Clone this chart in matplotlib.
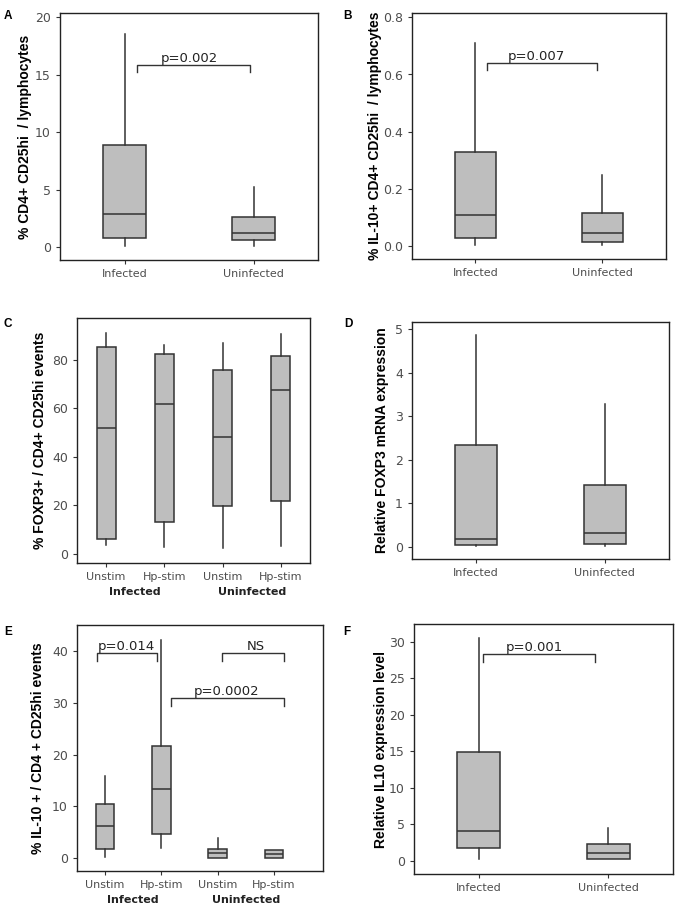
import matplotlib
matplotlib.use('Agg')
import matplotlib.pyplot as plt

# ---- data ----
two_groups = ['Infected', 'Uninfected']
four_groups = ['Unstim', 'Hp-stim', 'Unstim', 'Hp-stim']

# A: % CD4+ CD25hi / lymphocytes
a_low = [0.1, 0.1]
a_q1 = [0.75, 0.6]
a_med = [2.9, 1.2]
a_q3 = [8.85, 2.6]
a_high = [18.5, 5.2]

# B: % IL-10+ CD4+ CD25hi / lymphocytes
b_low = [0.005, 0.005]
b_q1 = [0.03, 0.015]
b_med = [0.11, 0.045]
b_q3 = [0.33, 0.115]
b_high = [0.71, 0.25]

# C: % FOXP3+ / CD4+ CD25hi events
c_low = [3.8, 2.7, 2.3, 3.2]
c_q1 = [6.2, 13.0, 19.9, 21.8]
c_med = [51.9, 61.7, 48.3, 67.6]
c_q3 = [85.2, 82.4, 75.6, 81.5]
c_high = [91.2, 86.1, 87.1, 90.7]

# D: relative FOXP3 mRNA expression
d_low = [0.03, 0.03]
d_q1 = [0.04, 0.08]
d_med = [0.18, 0.31]
d_q3 = [2.35, 1.43]
d_high = [4.87, 3.28]

# E: % IL-10+ / CD4+ CD25hi events
e_low = [0.2, 1.9, 0.0, 0.0]
e_q1 = [1.8, 4.6, 0.1, 0.1]
e_med = [6.3, 13.4, 0.97, 0.7]
e_q3 = [10.5, 21.7, 1.8, 1.6]
e_high = [15.9, 42.2, 3.9, 1.6]

# F: relative IL10 expression level
f_low = [0.23, 0.23]
f_q1 = [1.73, 0.23]
f_med = [4.05, 1.05]
f_q3 = [14.9, 2.37]
f_high = [30.5, 4.47]

# brackets: (x_left, x_right, y, drop, text, text_x)
a_brackets = [(1.1, 1.97, 15.8, 0.6, 'p=0.002', 1.5)]
b_brackets = [(1.09, 1.96, 0.64, 0.025, 'p=0.007', 1.48)]
e_brackets = [(0.86, 1.92, 39.7, 1.5, 'p=0.014', 1.37),
              (3.08, 4.18, 39.7, 1.5, 'NS', 3.67),
              (2.17, 4.18, 30.9, 1.5, 'p=0.0002', 3.16)]
f_brackets = [(1.03, 1.90, 28.3, 1.1, 'p=0.001', 1.43)]

box_fill = '#bebebe'
line_col = '#333333'
tick_col = '#4d4d4d'

fig = plt.figure(figsize=(6.75, 9.06), dpi=100)
W, H = 675.0, 906.0


def make_ax(left, right, top, bottom):
    return fig.add_axes([left / W, 1 - bottom / H, (right - left) / W, (bottom - top) / H])


def draw_box(ax, labels, low, q1, med, q3, high):
    stats = []
    for i in range(len(labels)):
        stats.append({'whislo': low[i], 'q1': q1[i], 'med': med[i],
                      'q3': q3[i], 'whishi': high[i], 'fliers': []})
    pos = list(range(1, len(labels) + 1))
    ax.bxp(stats, positions=pos, widths=0.33, patch_artist=True,
           showcaps=False, showfliers=False,
           boxprops=dict(facecolor=box_fill, edgecolor=line_col, linewidth=1.1),
           medianprops=dict(color=line_col, linewidth=1.1),
           whiskerprops=dict(color=line_col, linewidth=1.1))
    ax.set_xticks(pos)
    ax.set_xticklabels(labels)
    for s in ax.spines.values():
        s.set_color('#222222')
        s.set_linewidth(1.0)
    ax.tick_params(axis='both', length=3, width=0.8, color='#333333',
                   labelcolor=tick_col)
    ax.tick_params(axis='y', labelsize=9)
    ax.tick_params(axis='x', labelsize=8)


def draw_brackets(ax, brackets):
    for x1, x2, y, drop, txt, tx in brackets:
        ax.plot([x1, x1, x2, x2], [y - drop, y, y, y - drop], color=line_col, lw=1.0)
        ax.text(tx, y, txt, ha='center', va='bottom', fontsize=9.5, color='#222222')


def ylab(ax, text, xpos):
    ax.set_ylabel(text, fontsize=10, fontweight='bold', family='Liberation Sans')
    ax.yaxis.set_label_coords(xpos, 0.5)


def group_labels(ax):
    for x, t in [(1.5, 'Infected'), (3.5, 'Uninfected')]:
        ax.annotate(t, xy=(x, -0.118), xycoords=('data', 'axes fraction'),
                    ha='center', va='center', fontsize=8, fontweight='bold', color='#222222')


# A
axA = make_ax(60, 318, 13, 260)
draw_box(axA, two_groups, a_low, a_q1, a_med, a_q3, a_high)
axA.set_xlim(0.5, 2.5)
axA.set_ylim(-1.13, 20.35)
axA.set_yticks([0, 5, 10, 15, 20])
draw_brackets(axA, a_brackets)
ylab(axA, '% CD4+ CD25hi  / lymphocytes', -0.109)

# B
axB = make_ax(412, 666, 13, 259)
draw_box(axB, two_groups, b_low, b_q1, b_med, b_q3, b_high)
axB.set_xlim(0.5, 2.5)
axB.set_ylim(-0.045, 0.815)
axB.set_yticks([0.0, 0.2, 0.4, 0.6, 0.8])
axB.set_yticklabels(['0.0', '0.2', '0.4', '0.6', '0.8'])
draw_brackets(axB, b_brackets)
ylab(axB, '% IL-10+ CD4+ CD25hi  / lymphocytes', -0.118)

# C
axC = make_ax(77, 310, 318, 563)
draw_box(axC, four_groups, c_low, c_q1, c_med, c_q3, c_high)
axC.set_xlim(0.5, 4.5)
axC.set_ylim(-3.7, 97.2)
axC.set_yticks([0, 20, 40, 60, 80])
group_labels(axC)
ylab(axC, '% FOXP3+ / CD4+ CD25hi events', -0.129)

# D
axD = make_ax(412, 669, 322, 559)
draw_box(axD, two_groups, d_low, d_q1, d_med, d_q3, d_high)
axD.set_xlim(0.5, 2.5)
axD.set_ylim(-0.275, 5.16)
axD.set_yticks([0, 1, 2, 3, 4, 5])
ylab(axD, 'Relative FOXP3 mRNA expression', -0.09)

# E
axE = make_ax(77, 323, 625, 871)
draw_box(axE, four_groups, e_low, e_q1, e_med, e_q3, e_high)
axE.set_xlim(0.5, 4.87)
axE.set_ylim(-2.5, 45.1)
axE.set_yticks([0, 10, 20, 30, 40])
draw_brackets(axE, e_brackets)
group_labels(axE)
ylab(axE, '% IL-10 + / CD4 + CD25hi events', -0.129)

# F
axF = make_ax(414, 673, 624, 874)
draw_box(axF, two_groups, f_low, f_q1, f_med, f_q3, f_high)
axF.set_xlim(0.5, 2.5)
axF.set_ylim(-1.78, 32.4)
axF.set_yticks([0, 5, 10, 15, 20, 25, 30])
draw_brackets(axF, f_brackets)
ylab(axF, 'Relative IL10 expression level', -0.10)

# panel letters
for letter, x, y in [('A', 8, 16), ('B', 347, 16), ('C', 8, 324),
                     ('D', 348, 324), ('E', 8, 632), ('F', 347, 632)]:
    fig.text(x / W, 1 - y / H, letter, fontsize=8.5, fontweight='bold',
             ha='center', va='center', family='Liberation Sans')

fig.savefig('out.png', dpi=100)
